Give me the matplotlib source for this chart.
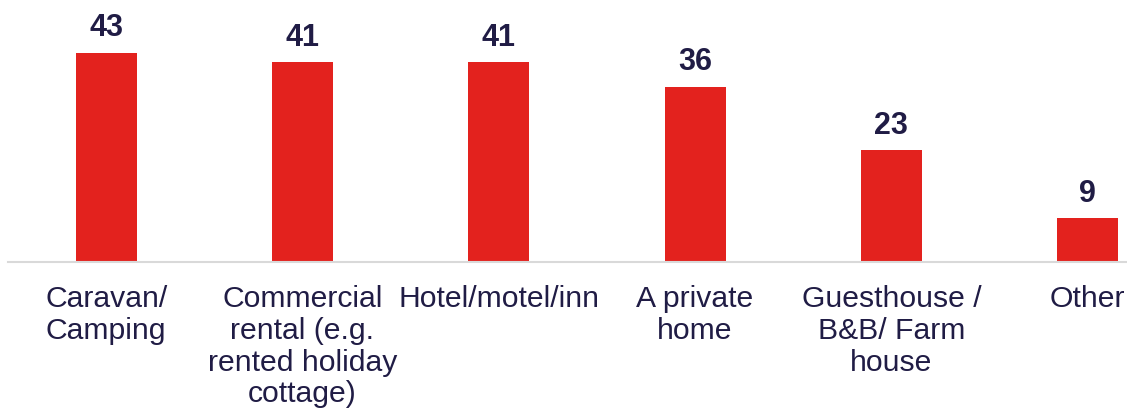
import matplotlib
matplotlib.use("Agg")
import matplotlib.pyplot as plt

categories = [
    "Caravan/\nCamping",
    "Commercial\nrental (e.g.\nrented holiday\ncottage)",
    "Hotel/motel/inn",
    "A private\nhome",
    "Guesthouse /\nB&B/ Farm\nhouse",
    "Other",
]
values = [43, 41, 41, 36, 23, 9]

bar_color = "#E3221E"
text_color = "#201C45"

plt.rcParams["font.family"] = ["Liberation Sans", "DejaVu Sans"]

fig = plt.figure(figsize=(11.27, 4.14), dpi=100)
ax = fig.add_axes([8 / 1127, (414 - 263) / 414, 1 - 8 / 1127, 263 / 414])

x = list(range(len(categories)))
bars = ax.bar(x, values, width=0.31, color=bar_color, zorder=2)

for xi, v in zip(x, values):
    ax.annotate(str(v), (xi, v), xytext=(0, 7.5), textcoords="offset points",
                ha="center", va="bottom", fontsize=22, fontweight="bold",
                color=text_color)

ax.set_xlim(-0.5, 5.2)
ax.set_ylim(0, 54)
ax.set_xticks(x)
ax.set_xticklabels(categories, fontsize=21.7, color=text_color,
                   linespacing=1.17, multialignment="center")
ax.tick_params(axis="x", length=0, pad=16)
ax.set_yticks([])
for side in ("top", "right", "left"):
    ax.spines[side].set_visible(False)
ax.spines["bottom"].set_color("#D9D9D9")
ax.spines["bottom"].set_linewidth(1.5)

fig.savefig("out.png", dpi=100)
